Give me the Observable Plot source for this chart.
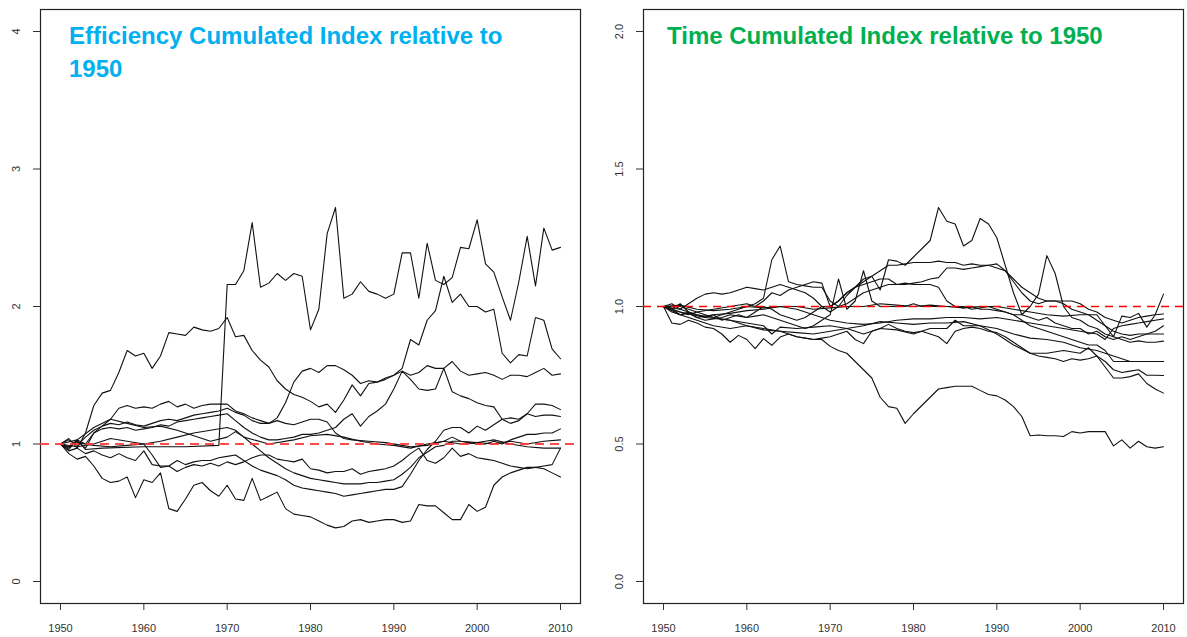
<!DOCTYPE html>
<html>
<head>
<meta charset="utf-8">
<script src="https://cdn.jsdelivr.net/npm/d3@7"></script>
<script src="https://cdn.jsdelivr.net/npm/@observablehq/plot@0.6"></script>
<style>
  body { margin: 0; background: #fff; }
  #wrap { position: relative; width: 1187px; height: 637px; overflow: hidden; }
  .panel { position: absolute; top: 0; }
  .title { position: absolute; font-family: "Liberation Sans", Arial, sans-serif; font-weight: bold; font-size: 24px; line-height: 33px; }
</style>
</head>
<body>
<div id="wrap">
  <div class="panel" id="left" style="left:0px"></div>
  <div class="panel" id="right" style="left:593px"></div>
  <div class="title" style="left:69px;top:19px;width:460px;color:#00B0F0">Efficiency Cumulated Index relative to 1950</div>
  <div class="title" style="left:667px;top:19px;color:#00B050">Time Cumulated Index relative to 1950</div>
</div>
<script>
// ---------- tick labels ----------
const yearTicks = [1950, 1960, 1970, 1980, 1990, 2000, 2010];
const effTicks = [0, 1, 2, 3, 4];
const timeTicks = [0, 0.5, 1, 1.5, 2];
const baseline = [1];

// ---------- Efficiency series [year, index] ----------
const effA = [[1950,1.00],[1951,0.97],[1952,1.03],[1953,0.96],[1955,0.97],[1960,0.98],[1965,0.98],[1969,0.99],[1970,2.16],[1971,2.16],[1972,2.26],[1973,2.61],[1974,2.14],[1975,2.17],[1976,2.24],[1977,2.19],[1978,2.24],[1979,2.22],[1980,1.83],[1981,1.98],[1982,2.53],[1983,2.72],[1984,2.06],[1985,2.09],[1986,2.18],[1987,2.11],[1988,2.09],[1989,2.06],[1990,2.09],[1991,2.39],[1992,2.39],[1993,2.06],[1994,2.46],[1995,2.19],[1996,2.16],[1997,2.21],[1998,2.43],[1999,2.42],[2000,2.63],[2001,2.31],[2002,2.25],[2003,2.07],[2004,1.90],[2005,2.18],[2006,2.51],[2007,2.15],[2008,2.57],[2009,2.41],[2010,2.43]];
const effP = [[1950,1.00],[1951,1.04],[1952,0.97],[1953,1.08],[1954,1.28],[1955,1.37],[1956,1.39],[1957,1.52],[1958,1.68],[1959,1.64],[1960,1.66],[1961,1.55],[1962,1.64],[1963,1.81],[1964,1.80],[1965,1.79],[1966,1.85],[1967,1.83],[1968,1.82],[1969,1.84],[1970,1.92],[1971,1.78],[1972,1.79],[1973,1.68],[1974,1.61],[1975,1.56],[1976,1.46],[1977,1.40],[1978,1.36],[1979,1.34],[1980,1.31],[1981,1.27],[1982,1.29],[1983,1.23],[1984,1.32],[1985,1.43],[1986,1.35],[1987,1.44],[1988,1.45],[1989,1.47],[1990,1.50],[1991,1.55],[1992,1.76],[1993,1.72],[1994,1.90],[1995,1.97],[1996,2.22],[1997,2.03],[1998,2.09],[1999,2.00],[2000,2.00],[2001,1.96],[2002,1.98],[2003,1.66],[2004,1.59],[2005,1.65],[2006,1.64],[2007,1.92],[2008,1.90],[2009,1.69],[2010,1.62]];
const effQ = [[1950,1.00],[1951,1.03],[1952,0.99],[1953,1.05],[1954,1.10],[1955,1.13],[1956,1.15],[1957,1.14],[1958,1.16],[1959,1.14],[1960,1.13],[1961,1.15],[1962,1.17],[1963,1.18],[1964,1.17],[1965,1.19],[1966,1.21],[1967,1.22],[1968,1.23],[1969,1.24],[1970,1.26],[1971,1.23],[1972,1.21],[1973,1.17],[1974,1.15],[1975,1.15],[1976,1.19],[1977,1.30],[1978,1.45],[1979,1.53],[1980,1.55],[1981,1.52],[1982,1.57],[1983,1.57],[1984,1.54],[1985,1.50],[1986,1.44],[1987,1.46],[1988,1.45],[1989,1.48],[1990,1.50],[1991,1.53],[1992,1.50],[1993,1.52],[1994,1.57],[1995,1.55],[1996,1.55],[1997,1.60],[1998,1.53],[1999,1.50],[2000,1.51],[2001,1.52],[2002,1.50],[2003,1.47],[2004,1.50],[2005,1.50],[2006,1.49],[2007,1.52],[2008,1.55],[2009,1.50],[2010,1.51]];
const effT = [[1950,1.00],[1951,0.98],[1952,1.02],[1953,0.97],[1954,1.08],[1955,1.11],[1956,1.12],[1957,1.11],[1958,1.12],[1959,1.10],[1960,1.11],[1961,1.12],[1962,1.14],[1963,1.13],[1964,1.16],[1965,1.17],[1966,1.18],[1967,1.19],[1968,1.20],[1969,1.21],[1970,1.22],[1971,1.17],[1972,1.12],[1973,1.08],[1974,1.05],[1975,1.03],[1976,1.03],[1977,1.04],[1978,1.05],[1979,1.07],[1980,1.07],[1981,1.08],[1982,1.10],[1983,1.12],[1984,1.18],[1985,1.22],[1986,1.13],[1987,1.20],[1988,1.24],[1989,1.29],[1990,1.40],[1991,1.53],[1992,1.47],[1993,1.40],[1994,1.39],[1995,1.40],[1996,1.55],[1997,1.38],[1998,1.35],[1999,1.33],[2000,1.30],[2001,1.28],[2002,1.27],[2003,1.18],[2004,1.15],[2005,1.17],[2006,1.22],[2007,1.29],[2008,1.29],[2009,1.28],[2010,1.25]];
const effR = [[1950,1.00],[1951,0.96],[1952,1.03],[1953,1.00],[1954,1.08],[1955,1.13],[1956,1.18],[1957,1.26],[1958,1.28],[1959,1.26],[1960,1.27],[1961,1.26],[1962,1.29],[1963,1.31],[1964,1.27],[1965,1.29],[1966,1.26],[1967,1.28],[1968,1.29],[1969,1.29],[1970,1.29],[1971,1.24],[1972,1.22],[1973,1.19],[1974,1.17],[1975,1.15],[1976,1.17],[1977,1.15],[1978,1.14],[1979,1.16],[1980,1.18],[1981,1.18],[1982,1.16],[1983,1.08],[1984,1.04],[1985,1.03],[1987,1.02],[1989,1.01],[1991,0.99],[1992,0.98],[1994,0.99],[1996,1.02],[1997,1.05],[1998,1.02],[2000,1.01],[2001,1.02],[2002,1.03],[2004,1.00],[2006,0.98],[2008,0.97],[2010,0.97]];
const effL = [[1950,1.00],[1951,0.93],[1952,0.89],[1953,0.91],[1954,0.84],[1955,0.75],[1956,0.72],[1957,0.73],[1958,0.76],[1959,0.61],[1960,0.74],[1961,0.72],[1962,0.79],[1963,0.53],[1964,0.51],[1965,0.60],[1966,0.70],[1967,0.72],[1968,0.66],[1969,0.62],[1970,0.70],[1971,0.60],[1972,0.59],[1973,0.75],[1974,0.59],[1975,0.62],[1976,0.65],[1977,0.53],[1978,0.49],[1979,0.48],[1980,0.47],[1981,0.44],[1982,0.41],[1983,0.39],[1984,0.40],[1985,0.44],[1986,0.45],[1987,0.43],[1988,0.44],[1989,0.45],[1990,0.45],[1991,0.43],[1992,0.44],[1993,0.56],[1994,0.55],[1995,0.55],[1996,0.50],[1997,0.45],[1998,0.45],[1999,0.56],[2000,0.51],[2001,0.54],[2002,0.70],[2003,0.76],[2004,0.79],[2005,0.81],[2006,0.83],[2007,0.83],[2008,0.82],[2009,0.79],[2010,0.76]];
const effM = [[1950,1.00],[1951,0.98],[1952,1.01],[1954,0.99],[1956,0.98],[1958,0.99],[1960,1.00],[1961,0.92],[1962,0.83],[1963,0.84],[1964,0.88],[1965,0.85],[1966,0.87],[1967,0.88],[1968,0.88],[1969,0.90],[1970,0.91],[1971,0.92],[1972,0.88],[1973,0.84],[1974,0.81],[1975,0.79],[1976,0.77],[1977,0.74],[1978,0.70],[1979,0.68],[1980,0.67],[1981,0.66],[1982,0.65],[1983,0.64],[1984,0.62],[1985,0.63],[1986,0.64],[1987,0.65],[1988,0.66],[1989,0.67],[1990,0.67],[1991,0.69],[1992,0.78],[1993,0.88],[1994,0.96],[1995,1.02],[1996,1.10],[1997,1.12],[1998,1.12],[1999,1.08],[2000,1.13],[2001,1.10],[2002,1.14],[2003,1.18],[2004,1.19],[2005,1.18],[2006,1.22],[2007,1.20],[2008,1.21],[2009,1.21],[2010,1.20]];
const effW = [[1950,1.00],[1951,0.95],[1952,0.97],[1953,0.93],[1954,0.95],[1955,0.92],[1956,0.90],[1957,0.93],[1958,0.90],[1959,0.88],[1960,0.95],[1961,0.85],[1962,0.84],[1963,0.84],[1964,0.80],[1965,0.83],[1966,0.85],[1967,0.84],[1968,0.86],[1969,0.84],[1970,0.87],[1971,0.85],[1972,0.87],[1973,0.90],[1974,0.92],[1975,0.92],[1976,0.89],[1977,0.88],[1978,0.87],[1979,0.89],[1980,0.82],[1981,0.81],[1982,0.79],[1983,0.80],[1984,0.80],[1985,0.82],[1986,0.78],[1987,0.80],[1988,0.81],[1989,0.82],[1990,0.84],[1991,0.88],[1992,0.93],[1993,0.97],[1994,0.88],[1995,0.86],[1996,0.90],[1997,0.97],[1998,0.91],[1999,0.93],[2000,0.90],[2001,0.89],[2002,0.88],[2003,0.86],[2004,0.84],[2005,0.83],[2006,0.82],[2007,0.83],[2008,0.84],[2009,0.85],[2010,0.97]];
const effB = [[1950,1.00],[1952,0.98],[1954,1.00],[1956,1.04],[1958,1.02],[1960,1.00],[1962,1.02],[1964,1.05],[1966,1.08],[1968,1.10],[1970,1.12],[1971,1.10],[1972,1.05],[1973,1.00],[1974,0.95],[1975,0.90],[1976,0.86],[1977,0.82],[1978,0.79],[1979,0.77],[1980,0.75],[1981,0.74],[1982,0.73],[1983,0.72],[1984,0.71],[1985,0.71],[1986,0.71],[1987,0.72],[1988,0.72],[1989,0.73],[1990,0.74],[1991,0.78],[1992,0.83],[1993,0.90],[1994,0.94],[1995,0.98],[1996,0.99],[1997,1.02],[1998,1.02],[1999,1.01],[2000,1.00],[2001,1.00],[2002,1.02],[2003,1.00],[2004,1.03],[2005,1.05],[2006,1.07],[2007,1.07],[2008,1.08],[2009,1.08],[2010,1.11]];
const effC = [[1950,1.00],[1952,1.03],[1954,1.12],[1956,1.18],[1958,1.15],[1960,1.12],[1962,1.13],[1964,1.10],[1966,1.06],[1968,1.02],[1970,1.05],[1971,1.09],[1972,1.05],[1975,1.00],[1978,1.03],[1980,1.06],[1982,1.07],[1984,1.05],[1986,1.02],[1988,1.00],[1990,0.99],[1992,0.97],[1994,1.00],[1996,1.02],[1998,1.00],[2000,1.01],[2002,1.00],[2004,1.02],[2006,1.00],[2008,1.02],[2010,1.03]];

// ---------- Time series [year, index] ----------
const timeH = [[1950,1.00],[1951,0.99],[1952,1.01],[1953,0.98],[1954,0.97],[1955,0.96],[1956,0.97],[1957,0.95],[1958,0.96],[1959,0.97],[1960,0.96],[1961,0.98],[1962,1.00],[1963,0.99],[1964,0.97],[1965,0.96],[1966,0.95],[1967,0.96],[1968,0.98],[1969,1.00],[1970,1.00],[1971,1.02],[1972,1.05],[1973,1.07],[1974,1.10],[1975,1.11],[1976,1.06],[1977,1.17],[1978,1.165],[1979,1.15],[1980,1.18],[1981,1.21],[1982,1.24],[1983,1.36],[1984,1.31],[1985,1.30],[1986,1.22],[1987,1.24],[1988,1.32],[1989,1.30],[1990,1.25],[1991,1.15],[1992,1.05],[1993,0.97],[1994,0.96],[1995,0.95],[1996,0.96],[1997,0.94],[1998,0.93],[1999,0.92],[2000,0.92],[2001,0.90],[2002,0.91],[2003,0.89],[2004,0.88],[2005,0.89],[2006,0.88],[2007,0.89],[2008,0.90],[2009,0.91],[2010,0.93]];
const timeU = [[1950,1.00],[1951,1.01],[1952,0.99],[1953,1.01],[1954,1.03],[1955,1.045],[1956,1.05],[1957,1.045],[1958,1.05],[1959,1.06],[1960,1.07],[1961,1.065],[1962,1.06],[1963,1.07],[1964,1.08],[1965,1.07],[1966,1.06],[1967,1.05],[1968,1.03],[1969,1.00],[1970,0.98],[1971,1.00],[1972,1.04],[1973,1.07],[1974,1.09],[1975,1.11],[1976,1.13],[1977,1.15],[1978,1.15],[1979,1.155],[1980,1.16],[1981,1.16],[1982,1.16],[1983,1.165],[1984,1.16],[1985,1.16],[1986,1.15],[1987,1.155],[1988,1.15],[1989,1.15],[1990,1.14],[1991,1.13],[1992,1.10],[1993,1.07],[1994,1.05],[1995,1.03],[1996,1.02],[1997,1.02],[1998,1.02],[1999,1.02],[2000,1.01],[2001,0.99],[2002,0.98],[2003,0.96],[2004,0.95],[2005,0.94],[2006,0.95],[2007,0.96],[2008,0.965],[2009,0.97],[2010,0.973]];
const timeV = [[1950,1.00],[1952,1.00],[1954,0.98],[1956,0.99],[1958,1.00],[1960,1.01],[1961,1.00],[1962,1.02],[1963,1.05],[1964,1.04],[1965,1.06],[1966,1.07],[1967,1.08],[1968,1.09],[1969,1.085],[1970,1.00],[1971,1.02],[1972,1.05],[1973,1.07],[1974,1.08],[1975,1.09],[1976,1.10],[1977,1.10],[1978,1.08],[1979,1.08],[1980,1.085],[1981,1.09],[1982,1.10],[1983,1.105],[1984,1.14],[1985,1.14],[1986,1.135],[1987,1.14],[1988,1.145],[1989,1.15],[1990,1.155],[1991,1.13],[1992,1.09],[1993,1.05],[1994,1.02],[1995,1.01],[1996,1.02],[1997,1.02],[1998,1.01],[1999,0.99],[2000,0.98],[2001,0.97],[2002,0.95],[2003,0.93],[2004,0.91],[2005,0.90],[2006,0.895],[2007,0.90],[2008,0.90],[2009,0.90],[2010,0.90]];
const timeS = [[1950,1.00],[1951,0.99],[1952,0.98],[1953,0.97],[1954,0.98],[1955,0.97],[1956,0.96],[1957,0.97],[1958,0.98],[1959,0.99],[1960,1.00],[1961,1.01],[1962,1.03],[1963,1.17],[1964,1.22],[1965,1.09],[1966,1.08],[1967,1.075],[1968,1.07],[1969,1.07],[1970,1.02],[1971,1.00],[1972,1.01],[1973,1.03],[1974,1.05],[1975,1.06],[1976,1.07],[1977,1.08],[1978,1.08],[1979,1.085],[1980,1.08],[1981,1.08],[1982,1.08],[1983,1.07],[1984,1.02],[1985,1.00],[1986,1.00],[1987,0.99],[1988,0.995],[1989,1.00],[1990,0.99],[1991,0.98],[1992,0.97],[1993,0.97],[1994,1.00],[1995,1.045],[1996,1.185],[1997,1.12],[1998,1.00],[1999,0.96],[2000,0.95],[2001,0.93],[2002,0.92],[2003,0.90],[2004,0.89],[2005,0.88],[2006,0.87],[2007,0.875],[2008,0.87],[2009,0.87],[2010,0.874]];
const timeD = [[1950,1.00],[1952,0.98],[1955,0.96],[1958,0.95],[1960,0.93],[1962,0.92],[1964,0.91],[1966,0.89],[1968,0.88],[1969,0.88],[1970,0.855],[1971,0.84],[1972,0.83],[1973,0.80],[1974,0.77],[1975,0.74],[1976,0.67],[1977,0.636],[1978,0.63],[1979,0.575],[1980,0.61],[1981,0.64],[1982,0.67],[1983,0.70],[1984,0.705],[1985,0.71],[1986,0.71],[1987,0.71],[1988,0.695],[1989,0.68],[1990,0.675],[1991,0.66],[1992,0.636],[1993,0.60],[1994,0.53],[1995,0.533],[1996,0.53],[1997,0.53],[1998,0.527],[1999,0.545],[2000,0.54],[2001,0.545],[2002,0.545],[2003,0.545],[2004,0.493],[2005,0.515],[2006,0.485],[2007,0.51],[2008,0.49],[2009,0.485],[2010,0.49]];
const timeK = [[1950,1.00],[1951,0.99],[1952,0.97],[1953,0.98],[1954,0.96],[1955,0.95],[1956,0.955],[1957,0.96],[1958,0.97],[1959,0.965],[1960,0.96],[1961,0.965],[1962,0.97],[1963,0.96],[1964,0.95],[1965,0.94],[1966,0.93],[1967,0.92],[1968,0.93],[1969,0.95],[1970,0.97],[1971,1.10],[1972,0.99],[1973,1.02],[1974,1.13],[1975,1.02],[1976,1.00],[1977,1.00],[1978,1.00],[1979,1.00],[1980,1.01],[1981,1.00],[1982,1.00],[1983,1.00],[1984,1.00],[1985,1.00],[1986,0.995],[1987,1.00],[1988,0.99],[1989,0.99],[1990,0.985],[1991,0.98],[1992,0.97],[1993,0.95],[1994,0.93],[1995,0.92],[1996,0.91],[1997,0.90],[1998,0.89],[1999,0.88],[2000,0.87],[2001,0.86],[2002,0.86],[2003,0.84],[2004,0.80],[2005,0.80],[2006,0.80],[2007,0.80],[2008,0.80],[2009,0.80],[2010,0.80]];
const timeJ = [[1950,1.00],[1951,0.94],[1952,0.935],[1953,0.95],[1954,0.94],[1955,0.925],[1956,0.92],[1957,0.90],[1958,0.87],[1959,0.895],[1960,0.88],[1961,0.847],[1962,0.883],[1963,0.859],[1964,0.889],[1965,0.90],[1966,0.89],[1967,0.885],[1968,0.88],[1969,0.885],[1970,0.89],[1971,0.90],[1972,0.91],[1973,0.88],[1974,0.865],[1975,0.91],[1976,0.92],[1977,0.935],[1978,0.92],[1979,0.91],[1980,0.905],[1981,0.91],[1982,0.90],[1983,0.89],[1984,0.865],[1985,0.91],[1986,0.92],[1987,0.925],[1988,0.92],[1989,0.91],[1990,0.905],[1991,0.89],[1992,0.87],[1993,0.85],[1994,0.83],[1995,0.82],[1996,0.815],[1997,0.81],[1998,0.80],[1999,0.81],[2000,0.805],[2001,0.81],[2002,0.82],[2003,0.80],[2004,0.77],[2005,0.76],[2006,0.765],[2007,0.77],[2008,0.75],[2009,0.75],[2010,0.749]];
const timeG = [[1950,1.00],[1952,0.97],[1954,0.95],[1956,0.93],[1958,0.92],[1960,0.93],[1962,0.915],[1964,0.91],[1966,0.905],[1968,0.90],[1970,0.91],[1972,0.92],[1974,0.93],[1976,0.945],[1978,0.94],[1980,0.935],[1982,0.94],[1984,0.94],[1986,0.945],[1988,0.93],[1990,0.90],[1992,0.86],[1994,0.83],[1996,0.83],[1998,0.84],[2000,0.83],[2001,0.85],[2002,0.82],[2003,0.78],[2004,0.74],[2005,0.74],[2006,0.745],[2007,0.755],[2008,0.72],[2009,0.70],[2010,0.685]];
const timeE = [[1950,1.00],[1952,1.005],[1954,0.99],[1956,0.985],[1958,0.99],[1960,1.00],[1962,0.995],[1964,1.00],[1966,1.00],[1968,0.99],[1970,0.995],[1972,1.00],[1974,1.00],[1976,1.01],[1978,1.005],[1980,1.00],[1982,1.005],[1984,1.00],[1986,0.995],[1988,1.00],[1990,1.00],[1992,0.99],[1994,0.98],[1996,0.97],[1998,0.965],[2000,0.97],[2002,0.97],[2003,0.93],[2004,0.89],[2005,0.965],[2006,0.96],[2007,0.975],[2008,0.925],[2009,0.97],[2010,1.045]];
const timeF = [[1950,1.00],[1951,0.98],[1952,0.97],[1953,0.975],[1954,0.96],[1956,0.97],[1958,0.975],[1960,0.985],[1962,0.99],[1964,1.00],[1966,0.99],[1968,0.97],[1970,0.95],[1972,0.94],[1974,0.935],[1976,0.94],[1978,0.95],[1980,0.955],[1982,0.955],[1984,0.96],[1986,0.96],[1988,0.955],[1990,0.96],[1992,0.95],[1994,0.94],[1996,0.93],[1998,0.92],[2000,0.91],[2002,0.90],[2003,0.88],[2004,0.92],[2005,0.93],[2006,0.935],[2007,0.94],[2008,0.945],[2009,0.95],[2010,0.955]];
const timeN = [[1950,1.00],[1952,0.99],[1954,0.97],[1956,0.96],[1958,0.95],[1960,0.94],[1962,0.93],[1963,0.90],[1964,0.925],[1966,0.92],[1968,0.925],[1970,0.93],[1972,0.92],[1974,0.90],[1976,0.92],[1978,0.915],[1980,0.90],[1982,0.92],[1984,0.92],[1985,0.95],[1986,0.93],[1988,0.93],[1990,0.92],[1992,0.90],[1994,0.885],[1996,0.88],[1998,0.87],[2000,0.85],[2002,0.84],[2004,0.82],[2006,0.80],[2008,0.80],[2010,0.80]];

const effSeries = [effA, effP, effQ, effT, effR, effL, effM, effW, effB, effC];
const timeSeries = [timeH, timeU, timeV, timeS, timeD, timeK, timeJ, timeG, timeE, timeF, timeN];

function toRows(list) {
  return list.flatMap((s, i) => s.map(([year, value]) => ({year, value, id: i})));
}

const font = "'Liberation Sans', Arial, sans-serif";

function panel({series, yTicks, yDomain, yFormat, marginLeft, marginRight, width, ruleStyle}) {
  return Plot.plot({
    width, height: 637,
    marginLeft, marginRight, marginTop: 9, marginBottom: 34,
    style: {fontFamily: font, fontSize: "11px", color: "#333", background: "white"},
    x: {domain: [1947.6, 2012.4]},
    y: {domain: yDomain},
    marks: [
      Plot.frame({stroke: "#222", strokeWidth: 1.2}),
      Plot.axisX({ticks: yearTicks, tickFormat: d => String(d), tickSize: 7, tickPadding: 14, label: null, stroke: "#333"}),
      Plot.axisY({ticks: yTicks, tickFormat: yFormat, tickSize: 7, tickPadding: 14, tickRotate: -90, label: null, stroke: "#333"}),
      Plot.line(toRows(series), {x: "year", y: "value", z: "id", stroke: "#111", strokeWidth: 1.1}),
      Plot.ruleY(baseline, ruleStyle)
    ]
  });
}

document.getElementById("left").append(panel({
  series: effSeries, yTicks: effTicks, yDomain: [-0.16, 4.16], yFormat: d => String(d),
  marginLeft: 40, marginRight: 13, width: 593,
  ruleStyle: {stroke: "#ff3a3a", strokeWidth: 2.2, strokeDasharray: "9,6", strokeOpacity: 0.9}
}));
document.getElementById("right").append(panel({
  series: timeSeries, yTicks: timeTicks, yDomain: [-0.08, 2.08], yFormat: d3.format(".1f"),
  marginLeft: 50, marginRight: 4, width: 594,
  ruleStyle: {stroke: "#ff0000", strokeWidth: 1.6, strokeDasharray: "8,6"}
}));
</script>
</body>
</html>
